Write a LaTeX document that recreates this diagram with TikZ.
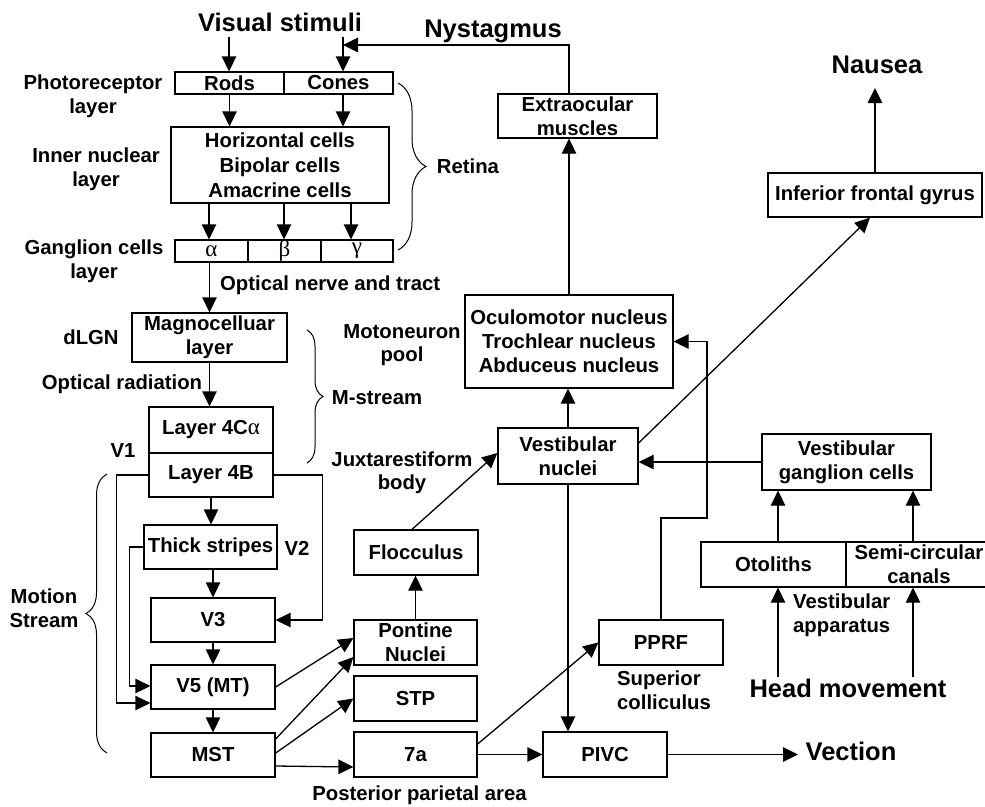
\documentclass[tikz,border=0pt]{standalone}
\usepackage{fontspec}
\setmainfont{Liberation Sans}
\newfontfamily\grk{Liberation Serif}
\usetikzlibrary{arrows.meta,decorations.pathreplacing}
\newcommand{\gk}[1]{{\grk\mdseries\fontsize{23}{24}\selectfont #1}}
\begin{document}
\begin{tikzpicture}[x=1pt,y=-1pt,
  every node/.style={font=\fontsize{20.3}{24}\selectfont\bfseries},
  box/.style={draw,line width=1.3pt,inner sep=0pt,align=center},
  lbl/.style={inner sep=0pt,anchor=base},
  lblw/.style={inner sep=0pt,anchor=base west},
  big/.style={inner sep=0pt,anchor=base,font=\fontsize{25.5}{30}\selectfont\bfseries},
  arr/.style={line width=1.3pt,-{Triangle[length=15pt,width=14.5pt]}},
  brc/.style={decorate,decoration={brace,amplitude=#1},line width=1pt}]
\useasboundingbox (0,0) rectangle (985,806);
% boxes
\node[box,minimum width=109pt,minimum height=22pt] (rods) at (229.5,83) {Rods};
\node[box,minimum width=109pt,minimum height=22pt] (cones) at (338.5,83) {Cones};
\node[box,minimum width=218pt,minimum height=76pt,font=\fontsize{20.3}{25}\selectfont\bfseries] (inner) at (280,165) {Horizontal cells\\Bipolar cells\\Amacrine cells};
\node[box,minimum width=73pt,minimum height=22pt] (alpha) at (211.5,251) {\gk{α}};
\node[box,minimum width=73pt,minimum height=22pt] (beta) at (284.5,251) {\gk{β}};
\node[box,minimum width=72pt,minimum height=22pt] (gamma) at (357,251) {\gk{γ}};
\node[box,minimum width=155pt,minimum height=49pt] (magno) at (209.5,337.5) {Magnocelluar\\layer};
\node[box,minimum width=124pt,minimum height=46pt] (l4c) at (211,430) {Layer 4C\gk{α}};
\node[box,minimum width=124pt,minimum height=44pt] (l4b) at (211,475) {Layer 4B};
\node[box,minimum width=133pt,minimum height=44pt] (thick) at (210.5,547) {Thick stripes};
\node[box,minimum width=124pt,minimum height=44pt] (v3) at (213,620) {V3};
\node[box,minimum width=124pt,minimum height=44pt] (v5) at (213,687) {V5 (MT)};
\node[box,minimum width=124pt,minimum height=44pt] (mst) at (213,755) {MST};
\node[box,minimum width=124pt,minimum height=45pt] (floc) at (416,552.5) {Flocculus};
\node[box,minimum width=123pt,minimum height=45pt] (pont) at (415.5,642.5) {Pontine\\Nuclei};
\node[box,minimum width=123pt,minimum height=45pt] (stp) at (415.5,698.5) {STP};
\node[box,minimum width=123pt,minimum height=45pt] (a7) at (415.5,754.5) {7a};
\node[box,minimum width=140pt,minimum height=56pt] (vn) at (568,456) {Vestibular\\nuclei};
\node[box,minimum width=208pt,minimum height=93pt] (ocu) at (569,341.5) {Oculomotor nucleus\\Trochlear nucleus\\Abduceus nucleus};
\node[box,minimum width=159pt,minimum height=44pt] (extra) at (577.5,116) {Extraocular\\muscles};
\node[box,minimum width=214pt,minimum height=44pt] (ifg) at (875,195) {Inferior frontal gyrus};
\node[box,minimum width=124pt,minimum height=45pt] (pprf) at (661,642.5) {PPRF};
\node[box,minimum width=124pt,minimum height=45pt] (pivc) at (605,754.5) {PIVC};
\node[box,minimum width=169pt,minimum height=56pt] (vgc) at (846.5,462) {Vestibular\\ganglion cells};
\node[box,minimum width=145pt,minimum height=45pt] (oto) at (773.5,564.5) {Otoliths};
\node[box,minimum width=146pt,minimum height=45pt] (semi) at (919,564.5) {Semi-circular\\canals};
% big labels
\node[big] (vs) at (280,31) {Visual stimuli};
\node[big] (nys) at (493,37) {Nystagmus};
\node[big] (nau) at (877,73) {Nausea};
\node[big] (head) at (848,697) {Head movement};
\node[big] (vec) at (851,760) {Vection};
% small labels
\node[lbl] (pr1) at (93,89) {Photoreceptor};
\node[lbl] (pr2) at (93,113) {layer};
\node[lbl] (in1) at (96,162) {Inner nuclear};
\node[lbl] (in2) at (96,186) {layer};
\node[lbl] (gc1) at (94,254) {Ganglion cells};
\node[lbl] (gc2) at (94,278) {layer};
\node[lbl] (ret) at (468,173) {Retina};
\node[lblw] (opt) at (220,290) {Optical nerve and tract};
\node[lbl] (dlgn) at (91,344) {dLGN};
\node[lbl] (orad) at (122,389) {Optical radiation};
\node[lbl] (v1) at (123,457) {V1};
\node[lbl] (ms) at (377,404) {M-stream};
\node[lbl] (mp1) at (402,338) {Motoneuron};
\node[lbl] (mp2) at (402,361) {pool};
\node[lbl] (jx1) at (402,466) {Juxtarestiform};
\node[lbl] (jx2) at (402,489) {body};
\node[lbl] (v2) at (297,555) {V2};
\node[lbl] (mo1) at (44,603) {Motion};
\node[lbl] (mo2) at (44,627) {Stream};
\node[lbl] (ppa) at (419.5,800) {Posterior parietal area};
\node[lblw] (sc1) at (617,685) {Superior};
\node[lblw] (sc2) at (617,709) {colliculus};
\node[lblw] (va1) at (793,608) {Vestibular};
\node[lblw] (va2) at (793,632) {apparatus};
% braces
\draw[brc=28pt] (398,83) -- (398,250);
\draw[brc=16pt] (307,330) -- (307,463);
\draw[brc=21pt] (107,753) -- (107,474);
% coordinates
\coordinate (vs1) at (229,37);
\coordinate (vs2) at (343,37);
\coordinate (nysend) at (343,45);
\coordinate (ga) at (209,0);
\coordinate (gb) at (284,0);
\coordinate (gc) at (351,0);
\coordinate (h1) at (778,677);
\coordinate (h2) at (913,677);
\coordinate (pp) at (707,518);
\coordinate (vecend) at (798,0);
\coordinate (nauend) at (0,88);
% connectors
\draw[arr] (vs1) -- (vs1 |- rods.north);
\draw[arr] (vs2) -- (vs2 |- cones.north);
\draw[arr] (extra.north -| ocu.north) |- (nysend);
\draw[arr] (rods.south) -- (rods.south |- inner.north);
\draw[arr] (vs2 |- cones.south) -- (vs2 |- inner.north);
\draw[arr] (ga |- inner.south) -- (ga |- alpha.north);
\draw[arr] (gb |- inner.south) -- (gb |- beta.north);
\draw[arr] (gc |- inner.south) -- (gc |- gamma.north);
\draw[arr] (alpha.south -| magno.north) -- (magno.north);
\draw[arr] (magno.south) -- (magno.south |- l4c.north);
\draw[arr] (l4b.south) -- (l4b.south |- thick.north);
\draw[arr] (thick.south -| v3.north) -- (v3.north);
\draw[arr] (v3.south) -- (v5.north);
\draw[arr] (v5.south) -- (mst.north);
\draw[arr] (l4b.west) -- ++(-32,0) |- ([yshift=-16pt]v5.west);
\draw[arr] (l4b.east) -- ++(49,0) |- (v3.east);
\draw[arr] (thick.west) -- ++(-14,0) |- ([yshift=1pt]v5.west);
\draw[arr] (v5.east) -- ([yshift=4.5pt]pont.west);
\draw[arr] ([yshift=16pt]mst.east) -- ([yshift=-14.5pt]pont.west);
\draw[arr] ([yshift=2pt]mst.east) -- (stp.west);
\draw[arr] ([yshift=-11pt]mst.east) -- ([yshift=-12.5pt]a7.west);
\draw[arr] (pont.north) -- (pont.north |- floc.south);
\draw[arr] ([xshift=-4pt]floc.north) -- ([yshift=3pt]vn.west);
\draw[arr] (vn.north) -- (vn.north |- ocu.south);
\draw[arr] (ocu.north) -- (ocu.north |- extra.south);
\draw[arr] ([yshift=13pt]vn.east) -- ([xshift=-5pt]ifg.south);
\draw[arr] (ifg.north) -- (ifg.north |- nauend);
\draw[arr] (vgc.west) -- (vgc.west -| vn.east);
\draw[arr] (h1) -- (h1 |- oto.south);
\draw[arr] (h2) -- (h2 |- semi.south);
\draw[arr] (h1 |- oto.north) -- (h1 |- vgc.south);
\draw[arr] (h2 |- semi.north) -- (h2 |- vgc.south);
\draw[arr] (pprf.north) |- (pp) |- (ocu.east);
\draw[arr] ([yshift=10.5pt]a7.east) -- (pprf.west);
\draw[arr] (a7.east) -- (pivc.west);
\draw[arr] (vn.south) -- (vn.south |- pivc.north);
\draw[arr] (pivc.east) -- (pivc.east -| vecend);
\end{tikzpicture}
\end{document}
